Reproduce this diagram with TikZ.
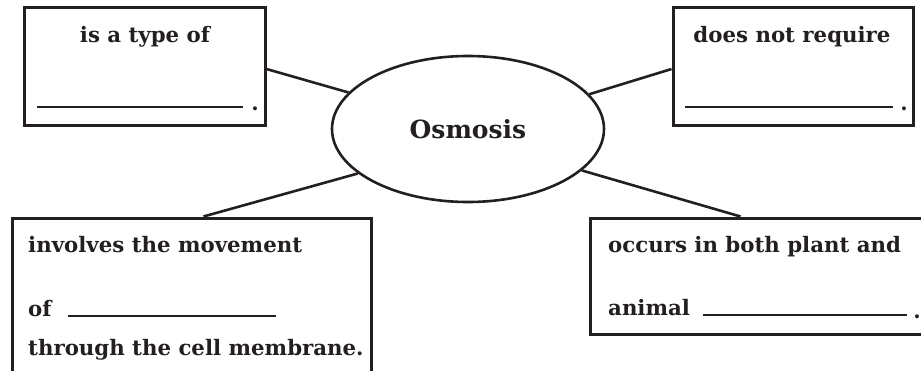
\documentclass[tikz,border=0pt]{standalone}
\usepackage{fontspec}
\setmainfont{DejaVu Serif}
\usetikzlibrary{shapes.geometric,calc}
\definecolor{ink}{HTML}{231F20}
\begin{document}
\begin{tikzpicture}[x=1pt,y=-1pt,
  box/.style={draw=ink,line width=3pt,rectangle,inner sep=0pt},
  txt/.style={inner sep=0pt,font=\bfseries\fontsize{21.3}{24}\selectfont,text=ink},
  link/.style={draw=ink,line width=2.6pt},
  blank/.style={draw=ink,line width=2.6pt}]
\useasboundingbox (0,0) rectangle (921,370);
\clip (0,0) rectangle (921,370);
% boxes
\node[box,minimum width=241pt,minimum height=118pt] (tl) at (144.5,66) {};
\node[box,minimum width=240pt,minimum height=118pt] (tr) at (793,66) {};
\node[box,minimum width=359pt,minimum height=180pt] (bl) at (191.5,308) {};
\node[box,minimum width=350pt,minimum height=116pt] (br) at (765,276) {};
% centre
\node[draw=ink,line width=2.6pt,ellipse,minimum width=272pt,minimum height=146pt,inner sep=0pt,
  font=\bfseries\fontsize{25}{28}\selectfont,text=ink] (osm) at (468,129) {Osmosis};
% box texts
\node[txt,anchor=base] (t1) at (145,42) {is a type of};
\node[txt,anchor=base] (t2) at (792,42) {does not require};
\node[txt,anchor=base west] (t3) at (28,252) {involves the movement};
\node[txt,anchor=base west] (t4) at (28,316) {of};
\node[txt,anchor=base west] (t5) at (28,355) {through the cell membrane.};
\node[txt,anchor=base west] (t6) at (608,252) {occurs in both plant and};
\node[txt,anchor=base west] (t7) at (608,315) {animal};
% blanks to fill in
\draw[blank] (37,107) -- (243,107);
\node[txt,anchor=base] (d1) at (255,110) {.};
\draw[blank] (685,107) -- (893,107);
\node[txt,anchor=base] (d2) at (904,110) {.};
\draw[blank] (68,316) -- (276,316);
\draw[blank] (703,315) -- (907,315);
\node[txt,anchor=base] (d3) at (917,318) {.};
% connectors
\coordinate (tlc) at ($(tl.north east)!0.525!(tl.south east)$);
\coordinate (trc) at ($(tr.north west)!0.525!(tr.south west)$);
\coordinate (blc) at ([xshift=193pt]bl.north west);
\coordinate (brc) at ([xshift=152pt]br.north west);
\draw[link] (tlc) -- (osm.163);
\draw[link] (trc) -- (osm.16);
\draw[link] (blc) -- (osm.202);
\draw[link] (brc) -- (osm.340);
\end{tikzpicture}
\end{document}
